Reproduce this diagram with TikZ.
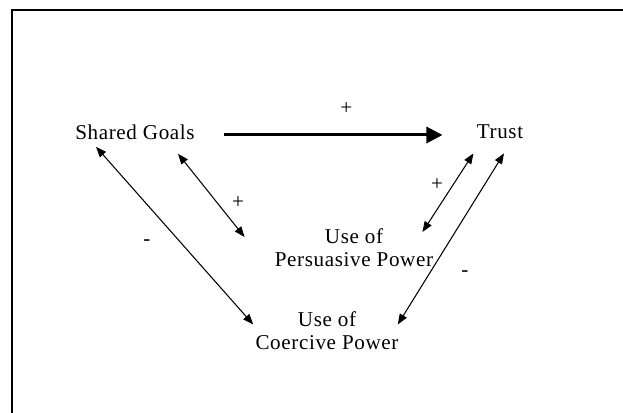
\documentclass[tikz,border=0pt]{standalone}
\usepackage{fontspec}
\setmainfont{Liberation Serif}[LetterSpace=3]
\usetikzlibrary{arrows.meta}

\tikzset{
  concept/.style={inner sep=0pt, align=center, font=\fontsize{12}{13.2}\selectfont},
  sign/.style={inner sep=0pt, font=\fontsize{12}{13.5}\selectfont},
  link/.style={{Triangle[length=2.1mm,width=1.6mm]}-{Triangle[length=2.1mm,width=1.6mm]}, line width=0.6pt},
  mainlink/.style={-{Triangle[length=3.2mm,width=3.2mm]}, line width=1.7pt},
}

\begin{document}
\begin{tikzpicture}[x=1cm, y=1cm]
\useasboundingbox (0,0) rectangle (12.46,8.26);
% frame, cut by the page edge
\draw[line width=0.8pt] (0.24,0) -- (0.24,8.06) -- (12.46,8.06);
\node[concept] (goals) at (2.70,5.62) {Shared Goals};
\node[concept] (trust) at (10.00,5.62) {Trust};
\node[concept] (persuasive) at (7.08,3.30) {Use of\\Persuasive Power};
\node[concept] (coercive) at (6.54,1.65) {Use of\\Coercive Power};
\draw[mainlink] ([xshift=0.58cm,yshift=-0.06cm]goals.east) -- ([xshift=-0.68cm,yshift=-0.06cm]trust.west)
  node[sign, pos=0.56, yshift=0.52cm] (tplus) {+};
\draw[link] ([xshift=0.42cm,yshift=-0.14cm]goals.south west) -- ([xshift=-0.04cm,yshift=0.12cm]coercive.west);
\draw[link] ([xshift=-0.34cm,yshift=-0.28cm]goals.south east) -- ([xshift=-0.6cm,yshift=-0.17cm]persuasive.north west);
\draw[link] ([xshift=-0.06cm,yshift=-0.28cm]trust.south west) -- ([xshift=-0.22cm,yshift=-0.07cm]persuasive.north east);
\draw[link] ([xshift=0.08cm,yshift=-0.28cm]trust.south) -- ([xshift=-0.02cm,yshift=0.12cm]coercive.east);
\node[sign] (gpplus) at (4.76,4.20) {+};
\node[sign] (gcminus) at (2.94,3.40) {-};
\node[sign] (tpplus) at (8.74,4.56) {+};
\node[sign] (tcminus) at (9.30,2.78) {-};
\end{tikzpicture}
\end{document}
